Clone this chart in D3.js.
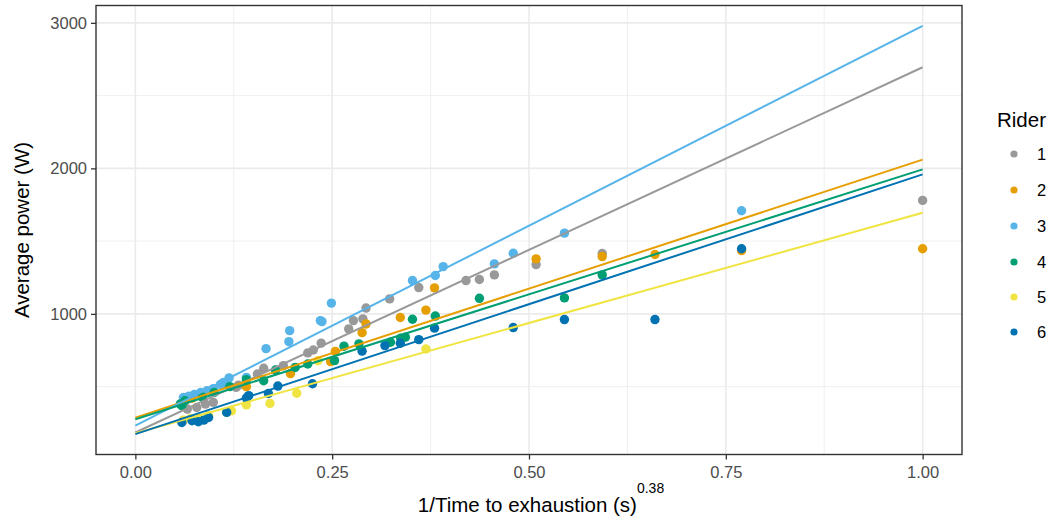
<!DOCTYPE html>
<html>
<head>
<meta charset="utf-8">
<script src="https://cdn.jsdelivr.net/npm/d3@7"></script>
<style>
  body { margin: 0; background: #fff; }
  svg { display: block; }
  text { font-family: "Liberation Sans", Arial, Helvetica, sans-serif; }
</style>
</head>
<body>
<svg id="chart" width="1057" height="520"></svg>
<script>
// Riders and their colours (Okabe-Ito palette)
const riders = ["1", "2", "3", "4", "5", "6"];
const riderColors = ["#999999", "#E69F00", "#56B4E9", "#009E73", "#F0E442", "#0072B2"];

// Observed efforts: x = 1/time^0.38, y = average power (W)
const rider1X = [1.0, 0.593, 0.509, 0.456, 0.437, 0.420, 0.360, 0.323, 0.293, 0.289, 0.277, 0.271, 0.236, 0.226, 0.219, 0.188, 0.163, 0.155, 0.131, 0.128, 0.099, 0.089, 0.078, 0.066];
const rider1Y = [1780, 1415, 1339, 1268, 1236, 1229, 1181, 1103, 1040, 966, 954, 897, 799, 752, 732, 644, 626, 587, 510, 495, 392, 380, 357, 346];

const rider2X = [1.0, 0.770, 0.660, 0.593, 0.509, 0.380, 0.369, 0.3365, 0.293, 0.288, 0.254, 0.248, 0.197, 0.141, 0.112, 0.098, 0.085, 0.072];
const rider2Y = [1448, 1435, 1408, 1394, 1378, 1179, 1026, 975, 931, 871, 742, 672, 590, 500, 520, 470, 445, 420];

const rider3X = [0.770, 0.545, 0.480, 0.456, 0.391, 0.381, 0.352, 0.249, 0.235, 0.237, 0.196, 0.195, 0.166, 0.141, 0.119, 0.112, 0.108, 0.099, 0.091, 0.083, 0.075, 0.068, 0.061];
const rider3Y = [1709, 1555, 1417, 1344, 1325, 1264, 1229, 1074, 954, 947, 885, 809, 761, 564, 560, 529, 515, 486, 472, 460, 447, 435, 425];

const rider4X = [0.593, 0.545, 0.437, 0.381, 0.352, 0.343, 0.337, 0.324, 0.284, 0.265, 0.253, 0.219, 0.203, 0.178, 0.163, 0.141, 0.120, 0.100, 0.085, 0.063, 0.059, 0.057];
const rider4Y = [1268, 1110, 1107, 985, 963, 840, 833, 805, 794, 778, 679, 656, 632, 614, 541, 548, 500, 460, 430, 403, 369, 381];

const rider5X = [0.369, 0.232, 0.205, 0.171, 0.141, 0.122, 0.116, 0.093, 0.080, 0.070, 0.061];
const rider5Y = [759, 678, 455, 385, 375, 334, 323, 300, 285, 280, 270];

const rider6X = [0.770, 0.660, 0.545, 0.480, 0.380, 0.360, 0.3365, 0.317, 0.288, 0.225, 0.181, 0.169, 0.144, 0.141, 0.116, 0.093, 0.087, 0.080, 0.072, 0.059];
const rider6Y = [1448, 961, 961, 906, 902, 823, 798, 782, 744, 520, 504, 453, 438, 422, 323, 288, 270, 259, 266, 254];

// Fitted power-duration lines, evaluated at x = 0 and x = 1
const fitAt0 = [185, 287, 232, 276, 180, 174];
const fitAt1 = [2695, 2060, 2979, 1993, 1695, 1959];

// Axis ticks
const xTicks = [0, 0.25, 0.5, 0.75, 1];
const xTickLabels = ["0.00", "0.25", "0.50", "0.75", "1.00"];
const xMinor = [0.125, 0.375, 0.625, 0.875];
const yTicks = [1000, 2000, 3000];
const yMinor = [500, 1500, 2500];

const pointsX = [rider1X, rider2X, rider3X, rider4X, rider5X, rider6X];
const pointsY = [rider1Y, rider2Y, rider3Y, rider4Y, rider5Y, rider6Y];

const svg = d3.select("#chart");
const panel = { left: 96, right: 962, top: 5.5, bottom: 454.5 };

// Scales with 5% padding around the drawn range
const xLo = 0, xHi = 1;
const x = d3.scaleLinear()
  .domain([xLo - 0.05 * (xHi - xLo), xHi + 0.05 * (xHi - xLo)])
  .range([panel.left, panel.right]);
const yLo = d3.min(fitAt0.concat(fitAt1)), yHi = d3.max(fitAt0.concat(fitAt1));
const y = d3.scaleLinear()
  .domain([yLo - 0.05 * (yHi - yLo), yHi + 0.05 * (yHi - yLo)])
  .range([panel.bottom, panel.top]);

const g = svg.append("g");

// Grid
const grid = g.append("g");
grid.selectAll(".xminor").data(xMinor).join("line")
  .attr("x1", d => x(d)).attr("x2", d => x(d))
  .attr("y1", panel.top).attr("y2", panel.bottom)
  .attr("stroke", "#EBEBEB").attr("stroke-width", 0.8);
grid.selectAll(".yminor").data(yMinor).join("line")
  .attr("y1", d => y(d)).attr("y2", d => y(d))
  .attr("x1", panel.left).attr("x2", panel.right)
  .attr("stroke", "#EBEBEB").attr("stroke-width", 0.8);
grid.selectAll(".xmajor").data(xTicks).join("line")
  .attr("x1", d => x(d)).attr("x2", d => x(d))
  .attr("y1", panel.top).attr("y2", panel.bottom)
  .attr("stroke", "#EBEBEB").attr("stroke-width", 1.6);
grid.selectAll(".ymajor").data(yTicks).join("line")
  .attr("y1", d => y(d)).attr("y2", d => y(d))
  .attr("x1", panel.left).attr("x2", panel.right)
  .attr("stroke", "#EBEBEB").attr("stroke-width", 1.6);

// Clip marks to the panel
svg.append("defs").append("clipPath").attr("id", "panel-clip")
  .append("rect")
  .attr("x", panel.left).attr("y", panel.top)
  .attr("width", panel.right - panel.left).attr("height", panel.bottom - panel.top);

const marks = g.append("g").attr("clip-path", "url(#panel-clip)");

// Points, rider by rider
riders.forEach((r, i) => {
  const pts = pointsX[i].map((px, j) => [px, pointsY[i][j]]);
  marks.append("g").selectAll("circle").data(pts).join("circle")
    .attr("cx", d => x(d[0]))
    .attr("cy", d => y(d[1]))
    .attr("r", 4.7)
    .attr("fill", riderColors[i]);
});

// Fitted lines
riders.forEach((r, i) => {
  marks.append("line")
    .attr("x1", x(0)).attr("y1", y(fitAt0[i]))
    .attr("x2", x(1)).attr("y2", y(fitAt1[i]))
    .attr("stroke", riderColors[i])
    .attr("stroke-width", 2);
});

// Panel border
g.append("rect")
  .attr("x", panel.left).attr("y", panel.top)
  .attr("width", panel.right - panel.left).attr("height", panel.bottom - panel.top)
  .attr("fill", "none").attr("stroke", "#333333").attr("stroke-width", 1.4);

// Axes
const xAxis = d3.axisBottom(x).tickValues(xTicks)
  .tickFormat((d, i) => xTickLabels[i]).tickSize(5).tickPadding(4);
const yAxis = d3.axisLeft(y).tickValues(yTicks)
  .tickFormat(d3.format("d")).tickSize(5).tickPadding(4);

const gx = g.append("g").attr("transform", `translate(0,${panel.bottom})`).call(xAxis);
const gy = g.append("g").attr("transform", `translate(${panel.left},0)`).call(yAxis);
[gx, gy].forEach(ax => {
  ax.select(".domain").remove();
  ax.selectAll(".tick text")
    .attr("fill", "#4D4D4D")
    .style("font-size", "16.5px");
  ax.selectAll(".tick line").attr("stroke", "#333333").attr("stroke-width", 1.3);
});
gx.selectAll(".tick text").attr("dy", "0.9em");

// Axis titles
const xTitle = svg.append("text")
  .attr("x", 541)
  .attr("y", 512)
  .attr("text-anchor", "middle")
  .style("font-size", "20.5px")
  .attr("fill", "#000");
xTitle.append("tspan").text("1/Time to exhaustion (s)");
xTitle.append("tspan").attr("dy", -19).style("font-size", "14px").text("0.38");

svg.append("text")
  .attr("transform", `translate(29,${(panel.top + panel.bottom) / 2}) rotate(-90)`)
  .attr("text-anchor", "middle")
  .style("font-size", "20.5px")
  .attr("fill", "#000")
  .text("Average power (W)");

// Legend
const legend = svg.append("g").attr("transform", "translate(997,0)");
legend.append("text")
  .attr("x", 0).attr("y", 127)
  .style("font-size", "20.5px")
  .attr("fill", "#000")
  .text("Rider");
const legendRows = [154, 190, 226, 262, 297, 332];
riders.forEach((r, i) => {
  legend.append("circle")
    .attr("cx", 17).attr("cy", legendRows[i]).attr("r", 3.6)
    .attr("fill", riderColors[i]);
  legend.append("text")
    .attr("x", 40).attr("y", legendRows[i])
    .attr("dy", "0.36em")
    .style("font-size", "16.5px")
    .attr("fill", "#000")
    .text(r);
});
</script>
</body>
</html>
